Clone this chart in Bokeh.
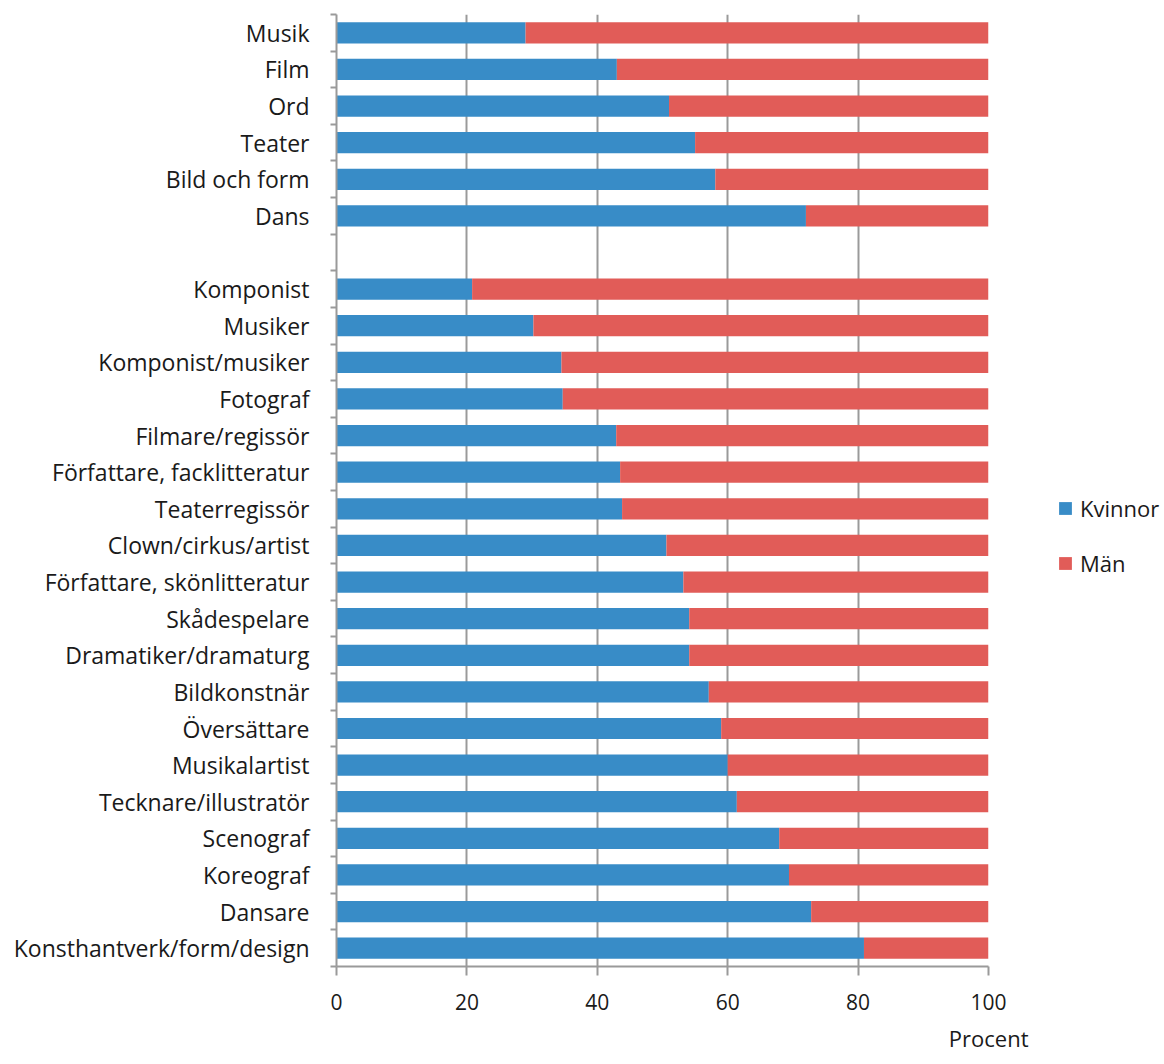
from bokeh.plotting import figure
from bokeh.models import (ColumnDataSource, FixedTicker, Legend, LegendItem, Title)
from bokeh.embed import file_html
from bokeh.resources import INLINE

# ---- data (top to bottom) ----
categories = [
    "Musik", "Film", "Ord", "Teater", "Bild och form", "Dans",
    "",
    "Komponist", "Musiker", "Komponist/musiker", "Fotograf", "Filmare/regissör",
    "Författare, facklitteratur", "Teaterregissör", "Clown/cirkus/artist",
    "Författare, skönlitteratur", "Skådespelare", "Dramatiker/dramaturg",
    "Bildkonstnär", "Översättare", "Musikalartist", "Tecknare/illustratör",
    "Scenograf", "Koreograf", "Dansare", "Konsthantverk/form/design",
]
kvinnor = [
    29.0, 43.0, 51.0, 55.0, 58.1, 72.0,
    None,
    20.8, 30.2, 34.5, 34.7, 42.9,
    43.5, 43.8, 50.6,
    53.2, 54.1, 54.1,
    57.1, 59.0, 60.0, 61.4,
    67.9, 69.4, 72.8, 80.9,
]
x_ticks = [0, 20, 40, 60, 80, 100]
series_names = ["Kvinnor", "Män"]
x_title = "Procent"

BLUE = "#388cc7"
RED = "#e15c58"
GRID = "#9a9a9a"
FONT = "Open Sans"
TXT = "#1a1a1a"

n = len(categories)
ys, ks, ms, names = [], [], [], []
for i, (c, k) in enumerate(zip(categories, kvinnor)):
    if k is None:
        continue
    ys.append(n - 1 - i)
    ks.append(k)
    ms.append(100 - k)
    names.append(c)

src = ColumnDataSource(dict(y=ys, k=ks, m=ms, name=names))

p = figure(width=1148, height=1056, output_backend="svg", toolbar_location=None,
           x_range=(0, 100), y_range=(-0.5, n - 0.5),
           min_border_left=336, min_border_right=160, min_border_top=14,
           min_border_bottom=90)
p.frame_width = 652
p.frame_height = 952
p.outline_line_color = None
p.background_fill_color = "white"
p.border_fill_color = "white"

r = p.hbar_stack(["k", "m"], y="y", height=0.58, color=[BLUE, RED], source=src,
                 line_color=None)

# axes
p.xaxis.ticker = FixedTicker(ticks=x_ticks)
p.xaxis.axis_line_color = GRID
p.xaxis.axis_line_width = 2
p.xaxis.major_tick_line_color = GRID
p.xaxis.major_tick_line_width = 2
p.xaxis.major_tick_out = 9
p.xaxis.major_tick_in = 0
p.xaxis.minor_tick_line_color = None
p.xaxis.major_label_text_font = FONT
p.xaxis.major_label_text_font_size = "21px"
p.xaxis.major_label_text_color = TXT
p.xaxis.major_label_standoff = 18

centers = [n - 1 - i for i, c in enumerate(categories)]
bounds = [b + 0.5 for b in range(-1, n)]
p.yaxis.ticker = FixedTicker(ticks=centers, minor_ticks=bounds)
p.yaxis.major_label_overrides = {n - 1 - i: c for i, c in enumerate(categories)}
p.yaxis.axis_line_color = GRID
p.yaxis.axis_line_width = 2
p.yaxis.major_tick_out = 0
p.yaxis.major_tick_in = 0
p.yaxis.minor_tick_out = 6
p.yaxis.minor_tick_in = 0
p.yaxis.minor_tick_line_color = GRID
p.yaxis.minor_tick_line_width = 2
p.yaxis.major_label_text_font = FONT
p.yaxis.major_label_text_font_size = "23px"
p.yaxis.major_label_text_color = TXT
p.yaxis.major_label_standoff = 21

p.xgrid.ticker = FixedTicker(ticks=x_ticks)
p.xgrid.grid_line_color = GRID
p.xgrid.grid_line_width = 2
p.ygrid.grid_line_color = None

p.add_layout(Title(text=x_title, align="right", offset=-40, standoff=16,
                   text_font=FONT, text_font_size="22px", text_font_style="normal",
                   text_color=TXT), "below")

legend = Legend(items=[LegendItem(label=series_names[0], renderers=[r[0]]),
                       LegendItem(label=series_names[1], renderers=[r[1]])],
                location=(69, 388), orientation="vertical",
                glyph_width=16, glyph_height=16, label_height=20,
                label_standoff=7, spacing=25, padding=0, margin=0,
                border_line_color=None, background_fill_alpha=0,
                label_text_font=FONT, label_text_font_size="22px",
                label_text_color=TXT)
p.add_layout(legend, "right")

open("out.html", "w").write(file_html(p, INLINE))
